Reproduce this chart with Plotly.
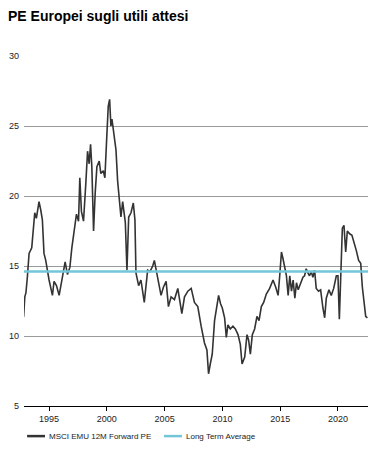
import plotly.graph_objects as go

# MSCI EMU 12M Forward PE (decimal years)
years = [1992.68, 1992.8, 1992.9, 1993.0, 1993.12, 1993.27, 1993.5, 1993.61, 1993.76, 1993.9,
         1994.13, 1994.28, 1994.42, 1994.56, 1994.71, 1995.0, 1995.29, 1995.43, 1995.64, 1995.87,
         1996.16, 1996.39, 1996.59, 1996.80, 1996.97, 1997.17, 1997.37, 1997.55, 1997.66, 1997.8,
         1997.98, 1998.18, 1998.33, 1998.47, 1998.59, 1998.7, 1998.85, 1998.99, 1999.14, 1999.34,
         1999.48, 1999.69, 1999.83, 1999.98, 2000.12, 2000.24, 2000.35, 2000.44, 2000.64, 2000.79,
         2000.93, 2001.08, 2001.22, 2001.37, 2001.6, 2001.74, 2001.89, 2002.09, 2002.29, 2002.43,
         2002.52, 2002.75, 2002.95, 2003.24, 2003.38, 2003.53, 2003.73, 2003.97, 2004.11, 2004.26,
         2004.4, 2004.69, 2004.9, 2005.13, 2005.33, 2005.56, 2005.85, 2006.14, 2006.49, 2006.72,
         2007.01, 2007.3, 2007.58, 2007.87, 2008.16, 2008.45, 2008.66, 2008.80, 2008.95, 2009.12,
         2009.32, 2009.47, 2009.67, 2009.84, 2009.99, 2010.19, 2010.34, 2010.48, 2010.68, 2010.91,
         2011.12, 2011.35, 2011.55, 2011.7, 2011.93, 2012.13, 2012.27, 2012.42, 2012.59, 2012.79,
         2012.99, 2013.17, 2013.37, 2013.57, 2013.80, 2014.09, 2014.38, 2014.61, 2014.82, 2014.96,
         2015.11, 2015.25, 2015.4, 2015.54, 2015.69, 2015.83, 2015.98, 2016.12, 2016.27, 2016.41,
         2016.56, 2016.76, 2016.97, 2017.11, 2017.25, 2017.4, 2017.54, 2017.69, 2017.83, 2017.98,
         2018.12, 2018.32, 2018.50, 2018.7, 2018.85, 2018.99, 2019.22, 2019.42, 2019.63, 2019.86,
         2020.0, 2020.12, 2020.23, 2020.38, 2020.52, 2020.67, 2020.81, 2021.01, 2021.21, 2021.39,
         2021.59, 2021.79, 2021.97, 2022.11, 2022.26, 2022.40, 2022.55]
pe_values = [11.2, 11.4, 12.8, 13.1, 14.2, 15.9, 16.3, 17.6, 18.8, 18.4,
             19.6, 19.0, 18.3, 15.9, 15.4, 14.0, 12.9, 13.9, 13.6, 12.9,
             14.2, 15.3, 14.4, 14.9, 16.3, 17.5, 18.7, 18.2, 21.3, 18.9,
             18.2, 20.9, 23.2, 22.3, 23.7, 22.1, 17.5, 20.2, 22.1, 22.5,
             21.6, 21.8, 21.3, 24.0, 26.4, 26.9, 25.0, 25.5, 24.0, 23.3,
             21.1, 19.9, 18.5, 19.6, 18.1, 14.7, 18.5, 18.8, 19.5, 18.3,
             14.5, 13.6, 14.0, 12.4, 13.8, 14.7, 14.6, 15.0, 15.4, 14.7,
             14.0, 12.9, 13.5, 13.9, 12.1, 12.8, 12.6, 13.4, 11.6, 12.8,
             13.2, 13.4, 12.4, 12.1, 10.7, 9.5, 9.0, 7.3, 8.0, 8.7,
             11.1, 12.0, 12.9, 12.3, 12.0, 11.3, 9.9, 10.8, 10.5, 10.7,
             10.5, 10.1, 9.4, 8.0, 8.5, 10.1, 9.7, 8.7, 10.1, 10.5,
             11.4, 11.1, 12.1, 12.4, 13.0, 13.4, 14.0, 13.5, 12.9, 14.3,
             16.0, 15.5, 14.8, 14.3, 12.9, 14.3, 13.2, 14.0, 12.7, 13.8,
             13.3, 13.8, 14.2, 14.3, 14.8, 14.5, 14.3, 14.6, 14.2, 14.7,
             13.4, 13.2, 13.3, 12.0, 11.3, 12.7, 13.3, 12.9, 13.4, 14.3,
             14.3, 11.2, 14.3, 17.7, 17.9, 16.0, 17.5, 17.3, 17.2, 16.7,
             16.1, 15.4, 15.2, 13.5, 12.2, 11.4, 11.3]

long_term_average = 14.6
avg_years = [1992.83, 2022.6]

x_tick_vals = [1995, 2000, 2005, 2010, 2015, 2020]
y_tick_vals = [5, 10, 15, 20, 25, 30]

title_text = "PE Europei sugli utili attesi"
series_names = ["MSCI EMU 12M Forward PE", "Long Term Average"]
series_colors = ["#333333", "#72C6D8"]

small_font = "'Liberation Sans', Arial, sans-serif"

fig = go.Figure()
fig.add_trace(go.Scatter(
    x=years, y=pe_values, mode="lines", name=series_names[0],
    line=dict(color=series_colors[0], width=1.6), showlegend=False))
fig.add_trace(go.Scatter(
    x=avg_years, y=[long_term_average] * len(avg_years), mode="lines",
    name=series_names[1], line=dict(color=series_colors[1], width=2.5), showlegend=False))

# legend drawn below the axis (paper coordinates)
legend_y = -0.086
legend_items = [(0.009, 0.061, 0.070), (0.407, 0.459, 0.468)]
for (x0, x1, tx), name, col in zip(legend_items, series_names, series_colors):
    fig.add_shape(type="line", xref="paper", yref="paper", x0=x0, x1=x1, y0=legend_y, y1=legend_y,
                  line=dict(color=col, width=2.5))
    fig.add_annotation(xref="paper", yref="paper", x=tx, y=legend_y, text=name, showarrow=False,
                       xanchor="left", yanchor="middle", borderpad=0,
                       font=dict(family=small_font, size=8, color="#222222"))

fig.update_layout(
    width=380, height=451,
    margin=dict(l=16, r=20, t=48, b=53, autoexpand=False),
    paper_bgcolor="white", plot_bgcolor="white",
    title=dict(text="<b>" + title_text + "</b>", xref="container", yref="container",
               x=0.0, xanchor="left", y=0.994, yanchor="top", pad=dict(t=0, l=0),
               font=dict(family="'Liberation Sans', Arial, sans-serif", size=14, color="#000000")),
    showlegend=False,
    xaxis=dict(range=[1992.83, 2022.6], tickvals=x_tick_vals, ticktext=[str(v) for v in x_tick_vals],
               showgrid=False, zeroline=False, showline=True, linecolor="#000000", linewidth=1.2,
               ticks="outside", ticklen=4, tickcolor="#000000", automargin=False,
               tickfont=dict(family=small_font, size=9, color="#222222")),
    yaxis=dict(range=[5, 30], tickvals=y_tick_vals, showgrid=True, gridcolor="#9a9a9a", gridwidth=1,
               zeroline=False, showline=False, ticks="", ticklabelstandoff=4, automargin=False,
               tickfont=dict(family=small_font, size=9, color="#222222")),
)

fig.write_html("out.html")
